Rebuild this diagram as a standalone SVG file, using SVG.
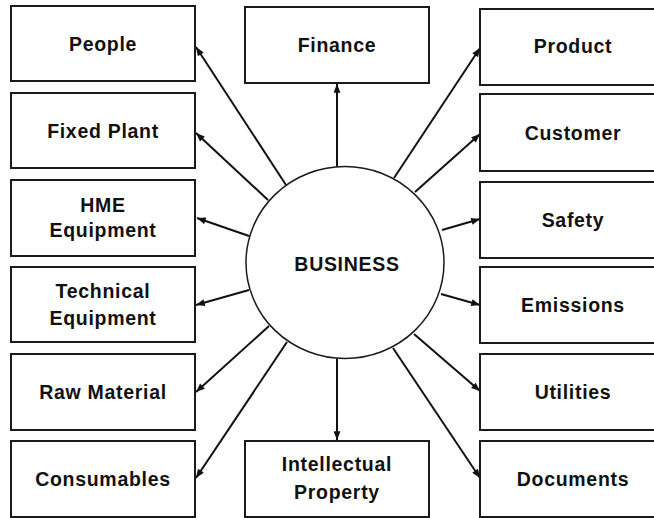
<svg xmlns="http://www.w3.org/2000/svg" width="654" height="518" viewBox="0 0 654 518">
<defs>
<marker id="ah" viewBox="0 0 10 8" refX="10" refY="4" markerWidth="10" markerHeight="7" markerUnits="userSpaceOnUse" orient="auto">
<path d="M0,0 L10,4 L0,8 z" fill="#111"/>
</marker>
<style>
.box{fill:#fff;stroke:#1a1a1a;stroke-width:2}
.t{font-family:"Liberation Sans",Arial,sans-serif;font-weight:bold;font-size:19.5px;fill:#111;text-anchor:middle;letter-spacing:0.7px}
.c{stroke:#111;stroke-width:2;fill:none;marker-end:url(#ah)}
</style>
</defs>
<rect width="654" height="518" fill="#fff"/>
<g id="connectors">
<line class="c" x1="286" y1="185" x2="196" y2="47"/>
<line class="c" x1="268" y1="200" x2="196" y2="133"/>
<line class="c" x1="249" y1="236" x2="197" y2="218"/>
<line class="c" x1="249" y1="290" x2="196" y2="305"/>
<line class="c" x1="269" y1="326" x2="196" y2="392"/>
<line class="c" x1="287" y1="342" x2="196" y2="478"/>
<line class="c" x1="337" y1="167" x2="337" y2="84"/>
<line class="c" x1="337" y1="358" x2="337" y2="440"/>
<line class="c" x1="394" y1="178" x2="480" y2="48"/>
<line class="c" x1="415" y1="192" x2="480" y2="134"/>
<line class="c" x1="442" y1="230" x2="480" y2="219"/>
<line class="c" x1="441" y1="294" x2="480" y2="305"/>
<line class="c" x1="414" y1="334" x2="480" y2="391"/>
<line class="c" x1="393" y1="348" x2="480" y2="478"/>
</g>
<g id="business">
<ellipse cx="345" cy="262.5" rx="99" ry="96" fill="#fff" stroke="#1a1a1a" stroke-width="1.5"/>
<text class="t" x="347" y="271">BUSINESS</text>
</g>
<g id="people"><rect class="box" x="11" y="6" width="184" height="75"/><text class="t" x="103" y="51">People</text></g>
<g id="fixed-plant"><rect class="box" x="11" y="93" width="184" height="75"/><text class="t" x="103" y="138">Fixed Plant</text></g>
<g id="hme-equipment"><rect class="box" x="11" y="180" width="184" height="76"/><text class="t" x="103" y="212">HME</text><text class="t" x="103" y="237">Equipment</text></g>
<g id="technical-equipment"><rect class="box" x="11" y="267" width="184" height="75"/><text class="t" x="103" y="298">Technical</text><text class="t" x="103" y="325">Equipment</text></g>
<g id="raw-material"><rect class="box" x="11" y="354" width="184" height="76"/><text class="t" x="103" y="399">Raw Material</text></g>
<g id="consumables"><rect class="box" x="11" y="441" width="184" height="76"/><text class="t" x="103" y="486">Consumables</text></g>
<g id="finance"><rect class="box" x="245" y="7" width="184" height="76"/><text class="t" x="337" y="52">Finance</text></g>
<g id="intellectual-property"><rect class="box" x="245" y="441" width="184" height="76"/><text class="t" x="337" y="471">Intellectual</text><text class="t" x="337" y="499">Property</text></g>
<g id="product"><rect class="box" x="480" y="9" width="190" height="76"/><text class="t" x="573" y="53">Product</text></g>
<g id="customer"><rect class="box" x="480" y="94" width="190" height="77"/><text class="t" x="573" y="140">Customer</text></g>
<g id="safety"><rect class="box" x="480" y="182" width="190" height="76"/><text class="t" x="573" y="227">Safety</text></g>
<g id="emissions"><rect class="box" x="480" y="267" width="190" height="76"/><text class="t" x="573" y="312">Emissions</text></g>
<g id="utilities"><rect class="box" x="480" y="354" width="190" height="76"/><text class="t" x="573" y="399">Utilities</text></g>
<g id="documents"><rect class="box" x="480" y="441" width="190" height="76"/><text class="t" x="573" y="486">Documents</text></g>
</svg>
